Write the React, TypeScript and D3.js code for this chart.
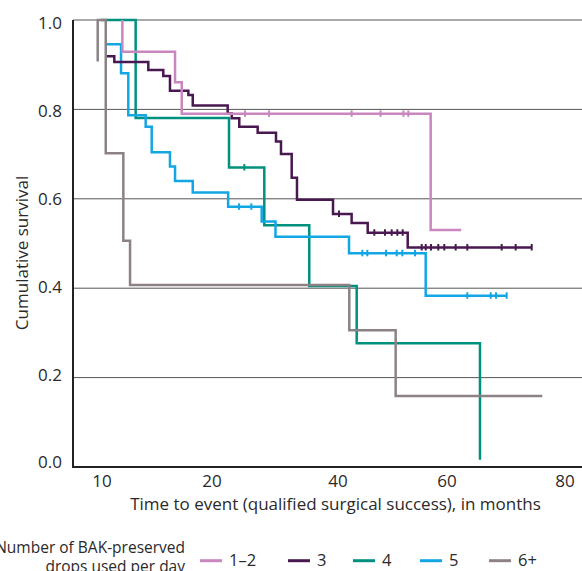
import React from "react";
import * as d3 from "d3";

// ---- Data ----
const xTickValues = [10, 20, 40, 60, 80];
const yTickValues = [0, 0.2, 0.4, 0.6, 0.8, 1.0];

const pinkTimes = [11.85, 11.85, 16.64, 17.25, 57.0, 62.4];
const pinkSurv = [1.0, 0.929, 0.861, 0.79, 0.53, 0.53];
const pinkCensor = [25.24, 29.05, 42.5, 47.8, 52.0, 52.9];

const purpleTimes = [10.43, 11.12, 14.21, 15.57, 16.18, 17.85, 18.25, 22.49, 23.13, 24.33, 27.25, 30.16, 30.95, 32.65, 33.49, 39.21, 42.5, 45.45, 52.79, 74.36];
const purpleSurv = [0.919, 0.906, 0.888, 0.875, 0.842, 0.832, 0.809, 0.791, 0.78, 0.761, 0.748, 0.728, 0.7, 0.647, 0.598, 0.566, 0.546, 0.524, 0.491, 0.491];
const purpleCensor = [40.18, 46.66, 48.62, 49.85, 50.88, 51.87, 55.36, 56.1, 57.06, 58.4, 59.5, 61.47, 63.44, 69.27, 71.64, 74.36];

const tealTimes = [9.91, 13.06, 22.7, 28.3, 35.44, 43.43, 65.59];
const tealSurv = [1.0, 0.781, 0.67, 0.541, 0.405, 0.277, 0.016];
const tealCensor = [25.13];

const blueTimes = [10.27, 11.73, 12.39, 13.97, 14.52, 16.18, 16.64, 18.25, 22.56, 27.89, 30.08, 42.02, 56.09, 70.12];
const blueSurv = [0.946, 0.881, 0.787, 0.761, 0.704, 0.672, 0.64, 0.614, 0.582, 0.549, 0.515, 0.478, 0.383, 0.383];
const blueCensor = [24.3, 26.24, 44.46, 45.38, 48.81, 50.77, 51.8, 54.13, 63.44, 67.41, 68.31, 70.12];

const grayTimes = [9.61, 9.61, 10.34, 11.94, 12.55, 42.07, 50.58, 76.15];
const graySurv = [0.907, 1.0, 0.702, 0.506, 0.407, 0.306, 0.159, 0.159];
const grayCensor: number[] = [];

const seriesLabels = ["1–2", "3", "4", "5", "6+"];
const seriesColors = ["#c986bf", "#4a1850", "#00907e", "#12a6e4", "#8c8286"];

const legendTitle = ["Number of BAK-preserved", "drops used per day"];
const xTitle = "Time to event (qualified surgical success), in months";
const yTitle = "Cumulative survival";

const W = 582;
const H = 571;
const FONT = "'Open Sans', 'Noto Sans', sans-serif";

export default function App() {
  const x = d3.scaleLinear().domain(xTickValues).range([102, 212, 338, 447, 565]);
  const y = d3.scaleLinear().domain([0, 1]).range([467, 20]);
  const yLabel = d3.scaleLinear().domain([0, 1]).range([468.3, 29.3]);

  const series = [
    { times: tealTimes, surv: tealSurv, censor: tealCensor, color: seriesColors[2] },
    { times: blueTimes, surv: blueSurv, censor: blueCensor, color: seriesColors[3] },
    { times: purpleTimes, surv: purpleSurv, censor: purpleCensor, color: seriesColors[1] },
    { times: pinkTimes, surv: pinkSurv, censor: pinkCensor, color: seriesColors[0] },
    { times: grayTimes, surv: graySurv, censor: grayCensor, color: seriesColors[4] },
  ];

  const line = d3
    .line<[number, number]>()
    .x((d) => x(d[0]))
    .y((d) => y(d[1]))
    .curve(d3.curveStepAfter);

  const survAt = (times: number[], surv: number[], t: number) => {
    let v = surv[0];
    for (let i = 0; i < times.length; i++) if (times[i] <= t + 1e-9) v = surv[i];
    return v;
  };

  const legendX = [200, 288, 353, 420, 489];

  return (
    <svg width={W} height={H} style={{ position: "absolute", left: 0, top: 0 }} fontFamily={FONT}>
      <rect x={0} y={0} width={W} height={H} fill="#fff" />
      {/* gridlines */}
      {yTickValues.filter((v) => v > 0).map((v) => (
        <line key={v} x1={73} x2={W} y1={y(v)} y2={y(v)} stroke="#555" strokeWidth={1} />
      ))}
      {/* axes */}
      <line x1={73} x2={73} y1={y(1)} y2={y(0) + 1} stroke="#222" strokeWidth={2} />
      <line x1={72} x2={W} y1={y(0)} y2={y(0)} stroke="#222" strokeWidth={2} />
      {/* y tick labels */}
      {yTickValues.map((v) => (
        <text key={v} x={62} y={yLabel(v)} textAnchor="end" fontSize={17} fill="#2a2a2a">
          {v.toFixed(1)}
        </text>
      ))}
      {/* x tick labels */}
      {xTickValues.map((v) => (
        <text key={v} x={x(v)} y={487} textAnchor="middle" fontSize={17} fill="#2a2a2a">
          {v}
        </text>
      ))}
      <text x={335.5} y={510} textAnchor="middle" fontSize={17} fill="#2a2a2a">
        {xTitle}
      </text>
      <text transform={`translate(28,253) rotate(-90)`} textAnchor="middle" fontSize={17} fill="#2a2a2a">
        {yTitle}
      </text>
      {/* curves */}
      {series.map((s, i) => {
        const pts = s.times.map((t, j) => [t, s.surv[j]] as [number, number]);
        return (
          <g key={i}>
            <path d={line(pts) || ""} fill="none" stroke={s.color} strokeWidth={2.5} />
            {s.censor.map((c, k) => {
              const cy = y(survAt(s.times, s.surv, c));
              return (
                <line key={k} x1={x(c)} x2={x(c)} y1={cy - 3.5} y2={cy + 3} stroke={s.color} strokeWidth={2} />
              );
            })}
          </g>
        );
      })}
      {/* legend */}
      <text x={185} y={553} textAnchor="end" fontSize={15.5} fill="#2a2a2a">
        {legendTitle[0]}
      </text>
      <text x={185} y={572} textAnchor="end" fontSize={15.5} fill="#2a2a2a">
        {legendTitle[1]}
      </text>
      {seriesLabels.map((lab, i) => (
        <g key={lab}>
          <line x1={legendX[i]} x2={legendX[i] + 22} y1={560.7} y2={560.7} stroke={seriesColors[i]} strokeWidth={3} />
          <text x={legendX[i] + 29} y={566} fontSize={16.5} fill="#2a2a2a">
            {lab}
          </text>
        </g>
      ))}
    </svg>
  );
}
